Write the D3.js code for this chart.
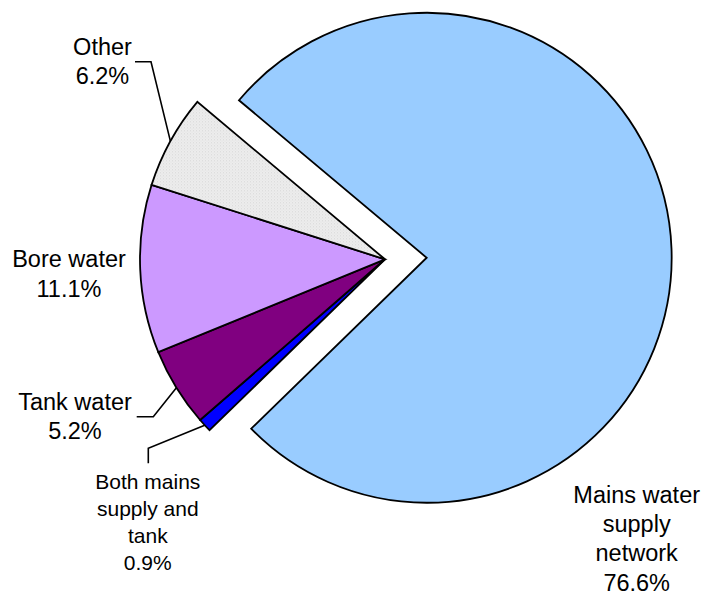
<!DOCTYPE html>
<html><head><meta charset="utf-8">
<script src="https://cdn.jsdelivr.net/npm/d3@7"></script>
<style>
html,body{margin:0;padding:0;background:#fff;}
svg{display:block;font-family:"Liberation Sans",Arial,sans-serif;}
</style></head>
<body>
<svg id="chart" width="705" height="595"></svg>
<script>
// ---- data ----
const categories = ["Mains water supply network", "Both mains supply and tank", "Tank water", "Bore water", "Other"];
const values = [76.6, 0.9, 5.2, 11.1, 6.2];
const labelLines = [
  ["Mains water", "supply", "network", "76.6%"],
  ["Both mains", "supply and", "tank", "0.9%"],
  ["Tank water", "5.2%"],
  ["Bore water", "11.1%"],
  ["Other", "6.2%"]
];
const colors = ["#99CCFF", "#0000FF", "#800080", "#CC99FF", "url(#otherPat)"];

// ---- layout ----
const cx = 385, cy = 259.3, R = 245, explode = 41.7;
const startDeg = 310;
const labelPos = [
  {x: 636.7, y: 503, lh: 29.2, fs: 23.5},
  {x: 147.8, y: 489, lh: 27, fs: 21},
  {x: 75, y: 410, lh: 29.3, fs: 23.5},
  {x: 69, y: 267.3, lh: 29.4, fs: 23.5},
  {x: 102.5, y: 55, lh: 29, fs: 23.5}
];
// leader elbows (label-side points)
const leaders = {
  1: [[148.3, 463.3], [148.3, 448.3]],
  2: [[136.7, 416.7], [153.3, 416.7]],
  4: [[135, 61.7], [151, 61.7]]
};

const svg = d3.select("#chart");
const defs = svg.append("defs");
const pat = defs.append("pattern").attr("id", "otherPat").attr("patternUnits", "userSpaceOnUse")
  .attr("width", 3).attr("height", 3);
pat.append("rect").attr("width", 3).attr("height", 3).attr("fill", "#EDEDED");
pat.append("rect").attr("x", 0).attr("y", 0).attr("width", 1).attr("height", 1).attr("fill", "#D6D6D6");
pat.append("rect").attr("x", 1.5).attr("y", 1.5).attr("width", 1).attr("height", 1).attr("fill", "#DEDEDE");

const data = categories.map((c, i) => ({name: c, value: values[i], i}));
const pie = d3.pie().sort(null).value(d => d.value)
  .startAngle(startDeg * Math.PI / 180).endAngle((startDeg + 360) * Math.PI / 180);
const arcs = pie(data);
const arc = d3.arc().innerRadius(0).outerRadius(R);

const g = svg.append("g").attr("transform", `translate(${cx},${cy})`);
g.selectAll("path.slice").data(arcs).join("path")
  .attr("class", "slice")
  .attr("d", arc)
  .attr("fill", d => colors[d.data.i])
  .attr("stroke", "#000").attr("stroke-width", 1.8).attr("stroke-linejoin", "miter")
  .attr("transform", d => {
    if (d.data.i !== 0) return null;
    const m = (d.startAngle + d.endAngle) / 2;
    return `translate(${explode * Math.sin(m)},${-explode * Math.cos(m)})`;
  });

// leader lines
arcs.forEach(d => {
  const L = leaders[d.data.i];
  if (!L) return;
  const m = (d.startAngle + d.endAngle) / 2;
  const ex = cx + R * Math.sin(m), ey = cy - R * Math.cos(m);
  const pts = [L[0], L[1], [ex, ey]];
  svg.append("path").attr("d", d3.line()(pts))
    .attr("fill", "none").attr("stroke", "#000").attr("stroke-width", 1.6);
});

// labels
arcs.forEach(d => {
  const p = labelPos[d.data.i];
  const t = svg.append("text").attr("text-anchor", "middle")
    .attr("font-size", p.fs + "px").attr("fill", "#000");
  labelLines[d.data.i].forEach((ln, k) => {
    t.append("tspan").attr("x", p.x).attr("y", p.y + k * p.lh).text(ln);
  });
});
</script>
</body></html>
